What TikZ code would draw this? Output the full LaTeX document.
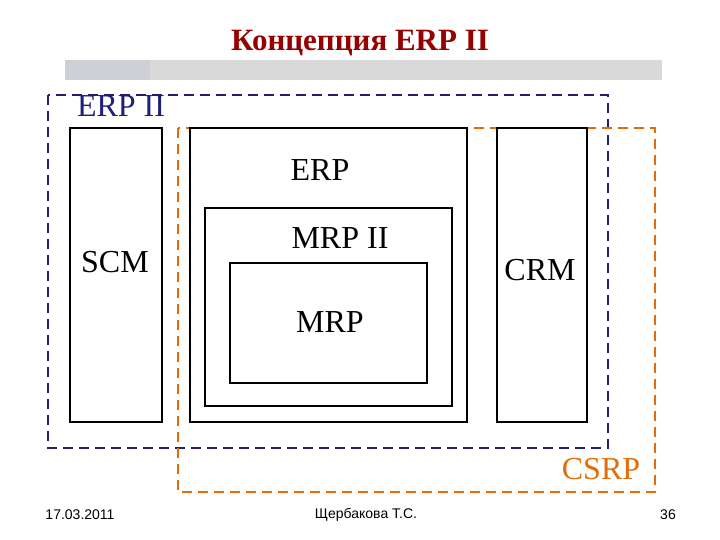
\documentclass[tikz,border=0pt]{standalone}
\usepackage{fontspec}
\setmainfont{Liberation Serif}
\newfontfamily\footfont{Liberation Sans}
\definecolor{navy}{RGB}{31,31,120}
\definecolor{orng}{RGB}{228,108,10}
\definecolor{ttl}{RGB}{150,0,0}
\begin{document}
\begin{tikzpicture}[x=1pt,y=-1pt,
  box/.style={draw=black,fill=white,line width=1.2pt},
  lbl/.style={font=\fontsize{32}{36}\selectfont},
  foot/.style={font=\footfont\fontsize{14}{16}\selectfont}]
\useasboundingbox (0,0) rectangle (720,540);
\fill[white] (0,0) rectangle (720,540);
\node[font=\bfseries\fontsize{31}{34}\selectfont,text=ttl] (title) at (360,43) {Концепция ERP II};
\fill[gray!30] (65,60) rectangle (662,80);
\fill[blue!8!gray!35] (65,60) rectangle (150,80);
\draw[navy,dashed,line width=2.5pt,dash pattern=on 10pt off 6pt] (48,95) rectangle (608,448);
\draw[orng,dashed,line width=2.5pt,dash pattern=on 10pt off 6pt] (178,128) rectangle (655,492);
\node[lbl,text=navy] (erp2) at (121,106) {ERP II};
\draw[box] (70,128) rectangle (162,422);
\draw[box] (190,128) rectangle (467,422);
\draw[box] (205,208) rectangle (452,406);
\draw[box] (230,263) rectangle (427,383);
\draw[box] (497,128) rectangle (587,422);
\node[lbl] (scm) at (115,262) {SCM};
\node[lbl] (erp) at (320,170) {ERP};
\node[lbl] (mrp2) at (340,238) {MRP II};
\node[lbl] (mrp) at (330,322) {MRP};
\node[lbl] (crm) at (540,270) {CRM};
\node[lbl,text=orng] (csrp) at (601,469) {CSRP};
\node[foot] (d) at (80,515) {17.03.2011};
\node[foot] (a) at (366,515) {Щербакова Т.С.};
\node[foot] (p) at (668,515) {36};
\end{tikzpicture}
\end{document}
